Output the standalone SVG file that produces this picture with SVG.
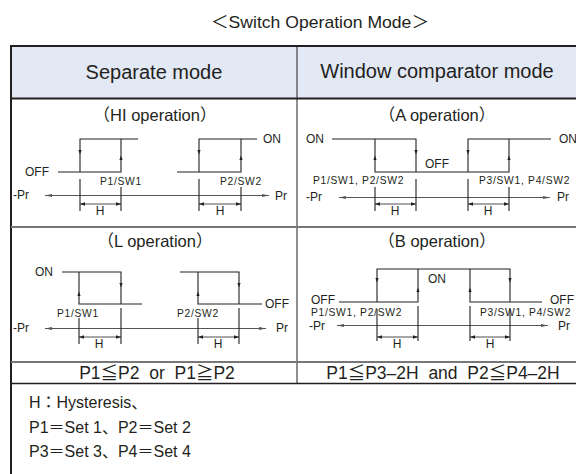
<svg xmlns="http://www.w3.org/2000/svg" xmlns:xlink="http://www.w3.org/1999/xlink" width="576" height="474" viewBox="0 0 576 474">
<style>
text{font-family:"Liberation Sans","Noto Sans CJK JP",sans-serif;fill:#231f20}
.title{font-size:17px}
.hd{font-size:20px}
.sub{font-size:16.5px}
.lb{font-size:12px}
.sm{font-size:10.3px;letter-spacing:0.7px}
.cond{font-size:17.5px}
.note{font-size:16px}
.wave{fill:none;stroke:#231f20;stroke-width:1.1}
.tick{fill:none;stroke:#231f20;stroke-width:1.1}
.axis{fill:none;stroke:#555;stroke-width:1;marker-start:url(#ah);marker-end:url(#ah)}
.dim{fill:none;stroke:#231f20;stroke-width:0.8;marker-start:url(#hd);marker-end:url(#hd)}
.arr{fill:#231f20}
.mid{text-anchor:middle}
</style>
<defs>
<marker id="ah" viewBox="0 0 7 4" refX="7" refY="2" markerWidth="7" markerHeight="4" markerUnits="userSpaceOnUse" orient="auto-start-reverse"><path d="M0,0.5 L7,2 L0,3.5 Z" fill="#555"/></marker>
<marker id="hd" viewBox="0 0 5 4" refX="5" refY="2" markerWidth="5" markerHeight="4" markerUnits="userSpaceOnUse" orient="auto-start-reverse"><path d="M0,0.3 L5,2 L0,3.7 Z" fill="#231f20"/></marker>
<path id="ad" d="M-1.6,-3 L1.6,-3 L0,1.5 Z"/>
<path id="au" d="M-1.6,3 L1.6,3 L0,-1.5 Z"/>
</defs>
<rect width="576" height="474" fill="#fff"/>
<text class="title mid" x="320" y="28" textLength="218" lengthAdjust="spacingAndGlyphs">＜Switch Operation Mode＞</text>

<g id="table">
<rect x="11" y="46" width="566" height="52" fill="#e3e8f5"/>
<line x1="10" y1="46" x2="577" y2="46" stroke="#231f20" stroke-width="2"/>
<line x1="11" y1="45" x2="11" y2="474" stroke="#231f20" stroke-width="2"/>
<line x1="10" y1="98.5" x2="577" y2="98.5" stroke="#231f20" stroke-width="2"/>
<line x1="297" y1="46" x2="297" y2="383" stroke="#231f20" stroke-width="1"/>
<line x1="11" y1="227" x2="577" y2="227" stroke="#777" stroke-width="2"/>
<line x1="11" y1="362" x2="577" y2="362" stroke="#777" stroke-width="2"/>
<line x1="11" y1="383.5" x2="577" y2="383.5" stroke="#231f20" stroke-width="1.5"/>
</g>

<g id="header-separate"><text class="hd mid" x="154" y="79">Separate mode</text></g>
<g id="header-window"><text class="hd mid" x="437" y="78">Window comparator mode</text></g>

<g id="hi-operation">
<text class="sub mid" x="155" y="121">（HI operation）</text>
<path class="wave" d="M58,172 H121 V139 M80,172 V139 H138"/>
<path class="wave" d="M177,172 H241 V139 M199,172 V139 H257"/>
<use href="#ad" class="arr" x="80" y="153"/>
<use href="#au" class="arr" x="121" y="157"/>
<use href="#ad" class="arr" x="199" y="153"/>
<use href="#au" class="arr" x="241" y="157"/>
<text class="lb" x="25" y="176">OFF</text>
<text class="lb" x="263" y="143">ON</text>
<text class="sm" x="100" y="185">P1/SW1</text>
<text class="sm" x="220" y="185">P2/SW2</text>
<line class="axis" x1="45" y1="195.5" x2="269" y2="195.5"/>
<text class="lb" x="13" y="199">-Pr</text>
<text class="lb" x="275" y="200">Pr</text>
<path class="tick" d="M80,179 V211 M121,187 V211 M199,179 V211 M241,187 V211"/>
<line class="dim" x1="80" y1="204" x2="121" y2="204"/>
<line class="dim" x1="199" y1="204" x2="241" y2="204"/>
<text class="lb mid" x="100" y="215">H</text>
<text class="lb mid" x="220" y="215">H</text>
</g>

<g id="a-operation">
<text class="sub mid" x="437" y="121">（A operation）</text>
<path class="wave" d="M332,139 H416 V172 M375,139 V172 H509 V139 M468,172 V139 H551"/>
<use href="#au" class="arr" x="375" y="157"/>
<use href="#ad" class="arr" x="416" y="153"/>
<use href="#ad" class="arr" x="468" y="153"/>
<use href="#au" class="arr" x="509" y="157"/>
<text class="lb" x="306" y="143">ON</text>
<text class="lb" x="559" y="143">ON</text>
<text class="lb" x="425" y="168">OFF</text>
<text class="sm" x="313" y="184">P1/SW1, P2/SW2</text>
<text class="sm" x="479" y="184">P3/SW1, P4/SW2</text>
<line class="axis" x1="339" y1="197.5" x2="550" y2="197.5"/>
<text class="lb" x="306" y="201">-Pr</text>
<text class="lb" x="557" y="201">Pr</text>
<path class="tick" d="M375,187 V211 M416,179 V211 M468,179 V211 M509,187 V211"/>
<line class="dim" x1="375" y1="204" x2="416" y2="204"/>
<line class="dim" x1="468" y1="204" x2="509" y2="204"/>
<text class="lb mid" x="395" y="215">H</text>
<text class="lb mid" x="488" y="215">H</text>
</g>

<g id="l-operation">
<text class="sub mid" x="155" y="247">（L operation）</text>
<path class="wave" d="M62,272 H121 V304 M79,272 V304 H142"/>
<path class="wave" d="M180,272 H239 V304 M198,272 V304 H262"/>
<use href="#au" class="arr" x="79" y="293"/>
<use href="#ad" class="arr" x="121" y="286"/>
<use href="#au" class="arr" x="198" y="293"/>
<use href="#ad" class="arr" x="239" y="286"/>
<text class="lb" x="35" y="276">ON</text>
<text class="lb" x="265" y="308">OFF</text>
<text class="sm" x="57" y="317">P1/SW1</text>
<text class="sm" x="177" y="317">P2/SW2</text>
<line class="axis" x1="45" y1="328.5" x2="266" y2="328.5"/>
<text class="lb" x="13" y="332">-Pr</text>
<text class="lb" x="276" y="332">Pr</text>
<path class="tick" d="M79,318 V344 M121,308 V344 M198,318 V344 M239,308 V344"/>
<line class="dim" x1="79" y1="337" x2="121" y2="337"/>
<line class="dim" x1="198" y1="337" x2="239" y2="337"/>
<text class="lb mid" x="99" y="348">H</text>
<text class="lb mid" x="218" y="348">H</text>
</g>

<g id="b-operation">
<text class="sub mid" x="437" y="247">（B operation）</text>
<path class="wave" d="M339,302 H418 V269 M377,302 V269 H510 V302 M470,269 V302 H542"/>
<use href="#ad" class="arr" x="377" y="281"/>
<use href="#au" class="arr" x="418" y="289"/>
<use href="#au" class="arr" x="470" y="289"/>
<use href="#ad" class="arr" x="510" y="281"/>
<text class="lb" x="311" y="303.5">OFF</text>
<text class="lb" x="550" y="303.5">OFF</text>
<text class="lb" x="428" y="283">ON</text>
<text class="sm" x="311" y="316">P1/SW1, P2/SW2</text>
<text class="sm" x="480" y="316">P3/SW1, P4/SW2</text>
<line class="axis" x1="337" y1="325.5" x2="548" y2="325.5"/>
<text class="lb" x="309" y="330">-Pr</text>
<text class="lb" x="558" y="330">Pr</text>
<path class="tick" d="M377,309 V341 M418,306 V341 M470,306 V341 M510,309 V341"/>
<line class="dim" x1="377" y1="337" x2="418" y2="337"/>
<line class="dim" x1="470" y1="337" x2="510" y2="337"/>
<text class="lb mid" x="397" y="348">H</text>
<text class="lb mid" x="490" y="348">H</text>
</g>

<g id="cond-separate"><text class="cond mid" x="157" y="379" xml:space="preserve">P1≦P2  or  P1≧P2</text></g>
<g id="cond-window"><text class="cond mid" x="443" y="379" xml:space="preserve">P1≦P3–2H  and  P2≦P4–2H</text></g>

<g id="notes">
<text class="note" x="29" y="408">H：Hysteresis、</text>
<text class="note" x="29" y="433">P1＝Set 1、P2＝Set 2</text>
<text class="note" x="29" y="457">P3＝Set 3、P4＝Set 4</text>
</g>
</svg>
